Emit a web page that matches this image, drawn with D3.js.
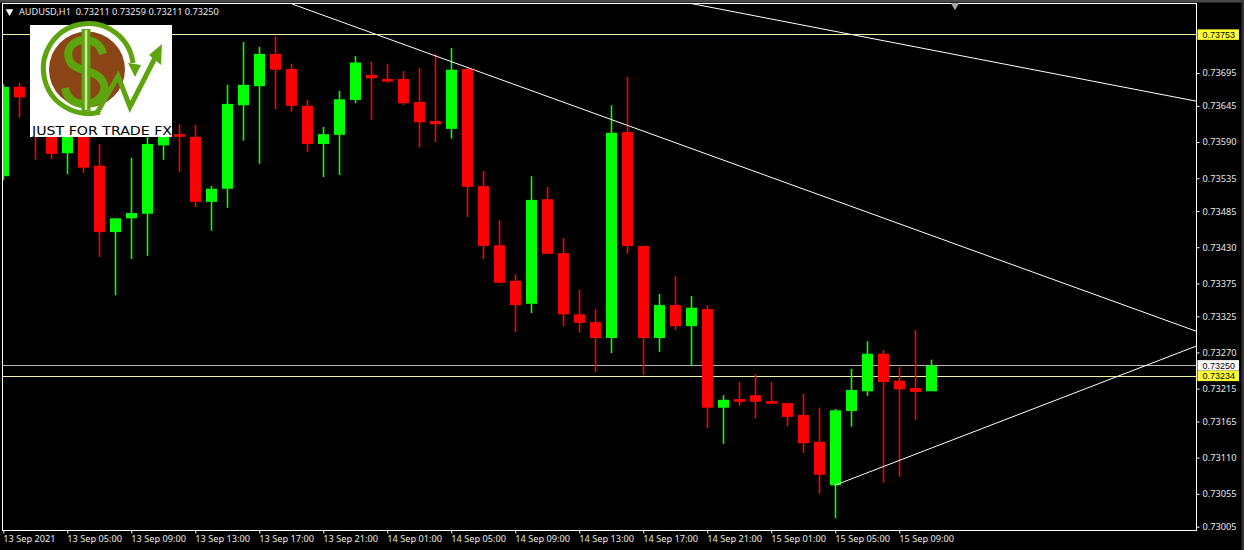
<!DOCTYPE html>
<html>
<head>
<meta charset="utf-8">
<script src="https://cdn.jsdelivr.net/npm/d3@7/dist/d3.min.js"></script>
<style>
html,body{margin:0;padding:0;background:#000;overflow:hidden}
svg{display:block}
text{font-family:"Noto Sans",Arial,sans-serif;font-size:9.2px;fill:#e8e8e8}
</style>
</head>
<body>
<svg id="c" width="1244" height="550"></svg>
<script>
const opens=[0.73538,0.73674,0.73654,0.73605,0.73573,0.73598,0.73554,0.73453,0.73474,0.73481,0.73585,0.73602,0.73598,0.73499,0.73519,0.73646,0.73675,0.73724,0.73701,0.73645,0.73587,0.73601,0.73654,0.73692,0.73686,0.73686,0.73651,0.73622,0.73610,0.73701,0.73523,0.73433,0.73379,0.73344,0.73503,0.73421,0.73328,0.73316,0.73292,0.73605,0.73432,0.73292,0.73342,0.73310,0.73336,0.73186,0.73199,0.73205,0.73196,0.73193,0.73175,0.73134,0.73068,0.73181,0.73211,0.73268,0.73227,0.73216,0.73211];
const highs=[0.73678,0.73680,0.73662,0.73616,0.73608,0.73608,0.73587,0.73474,0.73566,0.73598,0.73616,0.73617,0.73616,0.73523,0.73677,0.73742,0.73735,0.73751,0.73709,0.73654,0.73613,0.73668,0.73721,0.73712,0.73709,0.73698,0.73703,0.73724,0.73733,0.73703,0.73546,0.73471,0.73389,0.73538,0.73522,0.73444,0.73365,0.73336,0.73646,0.73689,0.73432,0.73359,0.73386,0.73356,0.73342,0.73205,0.73225,0.73237,0.73225,0.73193,0.73207,0.73186,0.73184,0.73245,0.73287,0.73274,0.73248,0.73304,0.73259];
const lows=[0.73532,0.73627,0.73563,0.73564,0.73541,0.73543,0.73415,0.73357,0.73412,0.73417,0.73563,0.73544,0.73491,0.73455,0.73490,0.73592,0.73557,0.73640,0.73636,0.73575,0.73537,0.73540,0.73649,0.73624,0.73680,0.73646,0.73582,0.73590,0.73595,0.73476,0.73412,0.73376,0.73301,0.73330,0.73420,0.73310,0.73300,0.73240,0.73269,0.73420,0.73236,0.73271,0.73304,0.73249,0.73155,0.73131,0.73189,0.73170,0.73192,0.73158,0.73117,0.73055,0.73018,0.73157,0.73204,0.73072,0.73081,0.73167,0.73211];
const closes=[0.73674,0.73658,0.73608,0.73572,0.73598,0.73551,0.73453,0.73474,0.73482,0.73587,0.73604,0.73598,0.73499,0.73519,0.73648,0.73677,0.73724,0.73700,0.73645,0.73587,0.73602,0.73655,0.73711,0.73687,0.73682,0.73649,0.73620,0.73617,0.73700,0.73522,0.73432,0.73376,0.73342,0.73502,0.73420,0.73328,0.73315,0.73292,0.73604,0.73432,0.73292,0.73342,0.73310,0.73338,0.73186,0.73198,0.73195,0.73195,0.73192,0.73172,0.73132,0.73084,0.73182,0.73213,0.73268,0.73225,0.73214,0.73210,0.73250];

const priceTicks=[0.73695,0.73645,0.73590,0.73535,0.73485,0.73430,0.73375,0.73325,0.73270,0.73215,0.73165,0.73110,0.73055,0.73005];
const timeTickBars=[0,4,8,12,16,20,24,28,32,36,40,44,48,52,56];
const timeTickLabels=["13 Sep 2021","13 Sep 05:00","13 Sep 09:00","13 Sep 13:00","13 Sep 17:00","13 Sep 21:00","14 Sep 01:00","14 Sep 05:00","14 Sep 09:00","14 Sep 13:00","14 Sep 17:00","14 Sep 21:00","15 Sep 01:00","15 Sep 05:00","15 Sep 09:00"];

const levels=[0.73753,0.73250,0.73234];
const levelColors=["#f4f4a8","#b4b4b4","#f4f4a8"];
const levelTagColors=["#ffff33","#ffffff","#ffff33"];

const trendBars=[[18.04,74.59],[42.92,74.59],[51.97,74.59]];
const trendPrices=[[0.73800,0.73302],[0.73801,0.73652],[0.73068,0.73280]];

const titleText="AUDUSD,H1  0.73211 0.73259 0.73211 0.73250";
const logoText="JUST FOR TRADE FX";

const UP="#00ff00", DOWN="#ff0000";
const frame={l:2.5,t:3.5,r:1196.5,b:530.5};

const x=d3.scaleLinear().domain([0,58]).range([3.3,931.3]);
const y=d3.scaleLinear().domain([0.73005,0.73695]).range([526.7,73]);
const svg=d3.select("#c");

svg.append("rect").attr("width",1244).attr("height",550).attr("fill","#000");
svg.append("rect").attr("width",1244).attr("height",2.5).attr("fill","#4a4a4a");
svg.append("rect").attr("x",1241.5).attr("width",2.5).attr("height",550).attr("fill","#333");

svg.append("defs").append("clipPath").attr("id","plot").append("rect")
  .attr("x",frame.l).attr("y",frame.t).attr("width",frame.r-frame.l).attr("height",frame.b-frame.t);
const plot=svg.append("g").attr("clip-path","url(#plot)");

plot.selectAll(".lvl").data(levels).join("line").attr("class","lvl")
  .attr("x1",frame.l).attr("x2",frame.r)
  .attr("y1",d=>Math.floor(y(d))+.5).attr("y2",d=>Math.floor(y(d))+.5)
  .attr("stroke",(d,i)=>levelColors[i]).attr("stroke-width",1);

const bars=d3.range(opens.length);
const px=i=>Math.floor(x(i));
plot.selectAll(".wick").data(bars).join("line").attr("class","wick")
  .attr("x1",i=>px(i)+.5).attr("x2",i=>px(i)+.5)
  .attr("y1",i=>y(highs[i])).attr("y2",i=>y(lows[i]))
  .attr("stroke",i=>closes[i]>=opens[i]?UP:DOWN).attr("stroke-width",1.6);
plot.selectAll(".body").data(bars).join("rect").attr("class","body")
  .attr("x",i=>px(i)-5).attr("width",11)
  .attr("y",i=>y(Math.max(opens[i],closes[i])))
  .attr("height",i=>Math.max(2,Math.abs(y(opens[i])-y(closes[i]))))
  .attr("fill",i=>closes[i]>=opens[i]?UP:DOWN);

plot.selectAll(".trend").data(trendBars).join("line").attr("class","trend")
  .attr("x1",d=>x(d[0])).attr("x2",d=>x(d[1]))
  .attr("y1",(d,i)=>y(trendPrices[i][0])).attr("y2",(d,i)=>y(trendPrices[i][1]))
  .attr("stroke","#fff").attr("stroke-width",1);

svg.append("rect").attr("x",frame.l).attr("y",frame.t).attr("width",frame.r-frame.l).attr("height",frame.b-frame.t)
  .attr("fill","none").attr("stroke","#fff").attr("stroke-width",1);

const yAxis=d3.axisRight(y).tickValues(priceTicks).tickSize(3).tickPadding(3).tickFormat(d3.format(".5f"));
const gy=svg.append("g").attr("transform",`translate(${frame.r},0)`).call(yAxis);
gy.select(".domain").remove();
gy.selectAll("line").attr("stroke","#fff");
gy.selectAll("text").attr("x",6).attr("fill","#e8e8e8").style("font-size","9.2px");

const xAxis=d3.axisBottom(x).tickValues(timeTickBars).tickSize(3).tickFormat((d,i)=>timeTickLabels[i]);
const gx=svg.append("g").attr("transform",`translate(0,${frame.b})`).call(xAxis);
gx.select(".domain").remove();
gx.selectAll("line").attr("stroke","#fff");
gx.selectAll("text").attr("text-anchor","start").attr("x",-0.5).attr("y",5).attr("fill","#e8e8e8").style("font-size","9.2px");

const tags=svg.selectAll(".tag").data(levels).join("g").attr("class","tag");
tags.append("rect").attr("x",1197.5).attr("width",41.5).attr("height",10.5)
  .attr("y",(d,i)=>y(d)-5.5)
  .attr("fill",(d,i)=>levelTagColors[i]);
tags.append("text").attr("x",1202.5).attr("y",(d,i)=>y(d)+3.2)
  .style("fill","#000").style("font-family","'Liberation Sans',Arial,sans-serif").style("font-size","9px").text(d=>d3.format(".5f")(d));

svg.append("path").attr("d",d3.symbol(d3.symbolTriangle,26)()).attr("transform","translate(9.5,11.5) rotate(180)").attr("fill","#fff");
svg.append("text").attr("x",19).attr("y",15).style("white-space","pre").text(titleText);
svg.append("path").attr("d",d3.symbol(d3.symbolTriangle,30)()).attr("transform","translate(955,5.5) rotate(180)").attr("fill","#a8a8a8");

const G="#5da40f";
const logo=svg.append("g");
logo.append("rect").attr("x",30).attr("y",25).attr("width",142).attr("height",112).attr("fill","#fff");
logo.append("circle").attr("cx",87).attr("cy",69.5).attr("r",38).attr("fill","#8a4415");
logo.append("path").attr("d","M133 63 A45 45 0 1 0 100 112").attr("fill","none").attr("stroke",G).attr("stroke-width",5);
logo.append("path").attr("d","M128 63 L141 65 L135 77 Z").attr("fill",G);
logo.append("path").attr("d","M103 54 C100 43 92 40 85 40 C72 40 66 50 69 59 C72 69 84 69 90 72 C102 76 107 85 103 93 C100 101 91 104 85 104 C74 104 67 99 65 88").attr("fill","none").attr("stroke",G).attr("stroke-width",8);
logo.append("line").attr("x1",86).attr("x2",86).attr("y1",29).attr("y2",111).attr("stroke",G).attr("stroke-width",9);
logo.append("line").attr("x1",86).attr("x2",86).attr("y1",30).attr("y2",110).attr("stroke","#cfe6a0").attr("stroke-width",2.5);
logo.append("path").attr("d","M97 113 L118 76 L130 107 L158 52").attr("fill","none").attr("stroke",G).attr("stroke-width",5);
logo.append("path").attr("d","M162 44 L161 65 L149 55 Z").attr("fill",G);
logo.append("text").attr("x",32).attr("y",135).attr("textLength",140).attr("lengthAdjust","spacingAndGlyphs")
  .style("font-family","'DejaVu Sans',sans-serif").style("font-size","12.5px").style("fill","#000").text(logoText);
</script>
</body>
</html>
